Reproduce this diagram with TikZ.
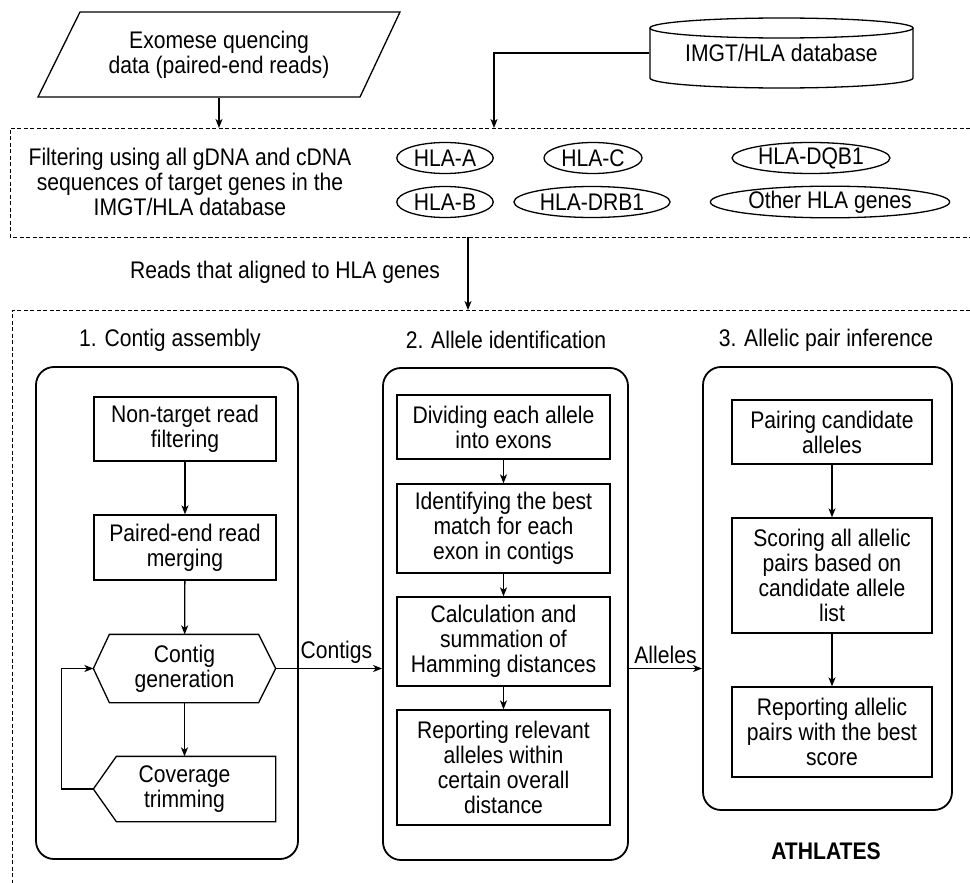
\documentclass[tikz,border=0pt]{standalone}
\usepackage{fontspec}
\setmainfont{Liberation Sans}[FakeStretch=0.88]
\usetikzlibrary{arrows.meta,shapes.geometric}

\begin{document}
\begin{tikzpicture}[x=1pt, y=-1pt,
    font=\fontsize{24}{25}\selectfont,
    line width=1.3pt,
    >={Stealth[length=9pt,width=7pt,inset=2.5pt]},
    stepbox/.style={draw, align=center, inner sep=0pt},
    gene/.style={draw, ellipse, inner xsep=3pt, inner ysep=0pt, minimum height=31pt},
    panel/.style={draw, rounded corners=18pt, line width=1.8pt, inner sep=0pt},
    dashbox/.style={dash pattern=on 4pt off 2.5pt, line width=1pt},
    title/.style={inner sep=0pt}]

    \useasboundingbox (0,0) rectangle (970,883);

    % input data
    \node[align=center, minimum width=280pt, minimum height=85pt] (seqdata) at (219,54.5)
        {Exomese quencing\\data (paired-end reads)};
    \draw (80,12) -- (400,12) -- (360,97) -- (38,97) -- cycle;

    \node[minimum width=263pt, minimum height=50pt, inner sep=0pt] (db) at (781.5,53) {IMGT/HLA database};
    \draw (650,28) -- (650,78) arc[start angle=180, end angle=0, x radius=131.5, y radius=10] -- (913,28);
    \draw (781.5,28) ellipse [x radius=131.5, y radius=10];

    \coordinate (dbin) at (494,128);
    \draw[->] (seqdata.south) -- (seqdata.south |- dbin);
    \draw[->] (db.west) -| (dbin);

    % filtering step
    \draw[dashbox] (970,128) -- (10,128) -- (10,237) -- (970,237);
    \node[align=center] (filtertxt) at (190,182)
        {Filtering using all gDNA and cDNA\\sequences of target genes in the\\IMGT/HLA database};
    \node[gene] (hlaa) at (445,158) {HLA-A};
    \node[gene] (hlac) at (593,158) {HLA-C};
    \node[gene] (hladqb) at (811,158) {HLA-DQB1};
    \node[gene] (hlab) at (445,202) {HLA-B};
    \node[gene] (hladrb) at (592,202) {HLA-DRB1};
    \node[gene] (hlaother) at (830,202) {Other HLA genes};

    \node (readslbl) at (285,272) {Reads that aligned to HLA genes};
    \coordinate (readsout) at (468,237);
    \coordinate (readsin) at (468,310);
    \draw[->] (readsout) -- (readsin);

    % ATHLATES
    \draw[dashbox] (970,310) -- (12,310) -- (12,883);
    \node[title] (title1) at (170,340) {1. Contig assembly};
    \node[title] (title2) at (506,340) {2. Allele identification};
    \node[title] (title3) at (826,340) {3. Allelic pair inference};

    \node[panel, minimum width=262pt, minimum height=492pt] (panel1) at (167,613) {};
    \node[panel, minimum width=245pt, minimum height=492pt] (panel2) at (505.5,614) {};
    \node[panel, minimum width=249pt, minimum height=443pt] (panel3) at (827.5,588.5) {};

    \node[stepbox, minimum width=182pt, minimum height=64pt] (nontarget) at (185,429) {Non-target read\\filtering};
    \node[stepbox, minimum width=182pt, minimum height=65pt] (pemerge) at (185,547.5) {Paired-end read\\merging};
    \node[align=center, inner sep=0pt, minimum width=181pt, minimum height=67pt] (cgen) at (184.5,668.5) {Contig\\generation};
    \draw (cgen.west) -- ([xshift=16pt]cgen.north west) -- ([xshift=-17pt]cgen.north east) -- (cgen.east)
        -- ([xshift=-17pt]cgen.south east) -- ([xshift=16pt]cgen.south west) -- cycle;
    \node[align=center, inner sep=0pt, minimum width=181pt, minimum height=64pt] (ctrim) at (184.5,789) {Coverage\\trimming};
    \draw (ctrim.west) -- ([xshift=23pt]ctrim.north west) -- (ctrim.north east) -- (ctrim.south east)
        -- ([xshift=23pt]ctrim.south west) -- cycle;

    \draw[->] (nontarget) -- (pemerge);
    \draw[->] (pemerge) -- (cgen);
    \draw[->] (cgen) -- (ctrim);
    \draw[->] (ctrim.west) -- ++(-32,0) |- (cgen.west);

    \node[stepbox, minimum width=213pt, minimum height=64pt] (divide) at (503.5,427) {Dividing each allele\\into exons};
    \node[stepbox, minimum width=213pt, minimum height=89pt] (bestmatch) at (503.5,528.5) {Identifying the best\\match for each\\exon in contigs};
    \node[stepbox, minimum width=213pt, minimum height=89pt] (hamming) at (503.5,641.5) {Calculation and\\summation of\\Hamming distances};
    \node[stepbox, minimum width=213pt, minimum height=115pt] (report) at (503.5,767.5) {Reporting relevant\\alleles within\\certain overall\\distance};

    \draw[->] (divide) -- (bestmatch);
    \draw[->] (bestmatch) -- (hamming);
    \draw[->] (hamming) -- (report);

    \node[stepbox, minimum width=200pt, minimum height=64pt] (pairing) at (832,432) {Pairing candidate\\alleles};
    \node[stepbox, minimum width=200pt, minimum height=115pt] (scoring) at (832,575.5) {Scoring all allelic\\pairs based on\\candidate allele\\list};
    \node[stepbox, minimum width=200pt, minimum height=90pt] (bestpair) at (832,732) {Reporting allelic\\pairs with the best\\score};

    \draw[->] (pairing) -- (scoring);
    \draw[->] (scoring) -- (bestpair);

    \draw[->] (cgen.east) -- (cgen.east -| panel2.west) node[pos=0.57, above=1pt] {Contigs};
    \draw[->] (panel2.east |- cgen.east) -- (panel3.west |- cgen.east) node[midway, above=1pt] {Alleles};

    \node[font=\fontsize{24}{25}\selectfont\bfseries] (athlates) at (826,851) {ATHLATES};
\end{tikzpicture}
\end{document}
